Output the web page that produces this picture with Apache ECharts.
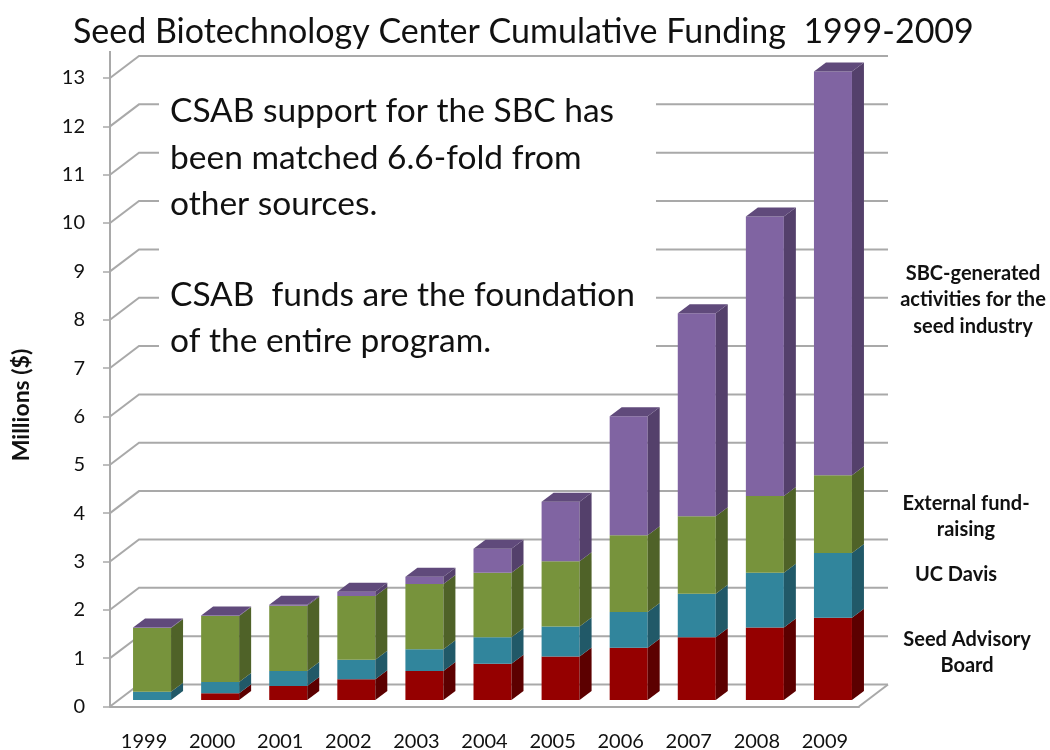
<!DOCTYPE html>
<html>
<head>
<meta charset="utf-8">
<title>Seed Biotechnology Center Cumulative Funding</title>
<script src="https://cdn.jsdelivr.net/npm/echarts@6/dist/echarts.min.js"></script>
<style>
html, body { margin: 0; padding: 0; background: #fff; }
#chart { width: 1050px; height: 750px; }
</style>
</head>
<body>
<div id="chart"></div>
<script>
const years = ['1999', '2000', '2001', '2002', '2003', '2004', '2005', '2006', '2007', '2008', '2009']
const yTicks = [0, 1, 2, 3, 4, 5, 6, 7, 8, 9, 10, 11, 12, 13]

// millions of dollars per source
const advisoryBoard = [0, 0.14, 0.29, 0.43, 0.6, 0.75, 0.9, 1.08, 1.3, 1.5, 1.7]
const ucDavis = [0.17, 0.23, 0.31, 0.4, 0.45, 0.55, 0.62, 0.74, 0.9, 1.13, 1.34]
const externalFunds = [1.32, 1.37, 1.35, 1.32, 1.35, 1.33, 1.35, 1.59, 1.6, 1.59, 1.61]
const sbcActivities = [0.01, 0.01, 0.02, 0.09, 0.15, 0.5, 1.23, 2.46, 4.2, 5.78, 8.35]

const FONT = 'Lato, "Open Sans", sans-serif'
const GRID_COLOR = '#a9a9a9'

// 3D look: wall offset and bar offsets in pixels
const WALL_DX = 29
const WALL_DY = 22
const BAR_WIDTH = 38
const BAR_DX = 12
const BAR_DY = 9
const BAR_SHIFT_X = 8
const BAR_LIFT = 6.5

function gridItem(params, api) {
  const v = api.value(0)
  const y = api.coord([0, v])[1]
  const sys = params.coordSys
  const lineStyle = { stroke: GRID_COLOR, lineWidth: 2, fill: null }
  const x0 = sys.x
  const x1 = sys.x + sys.width
  const children = [{
    type: 'polyline',
    shape: { points: [[x0, y], [x0 + WALL_DX, y - WALL_DY], [x1 + WALL_DX, y - WALL_DY]] },
    style: lineStyle
  }]
  if (v === 0) {
    children.push({
      type: 'line',
      shape: { x1: x1, y1: y, x2: x1 + WALL_DX, y2: y - WALL_DY },
      style: lineStyle
    })
  }
  if (v === 13) {
    children.push({
      type: 'line',
      shape: { x1: x0, y1: y, x2: x0, y2: y - 27 },
      style: lineStyle
    })
  }
  return { type: 'group', children }
}

function barSeries(name, values, bases, colors, capped) {
  return {
    name,
    type: 'custom',
    z: 5,
    clip: false,
    silent: true,
    data: values.map((v, i) => [i, bases[i], bases[i] + v]),
    renderItem(params, api) {
      const i = api.value(0)
      const x = api.coord([i, 0])[0] + BAR_SHIFT_X - BAR_WIDTH / 2
      const yb = api.coord([i, api.value(1)])[1] - BAR_LIFT
      const yt = api.coord([i, api.value(2)])[1] - BAR_LIFT
      const xr = x + BAR_WIDTH
      const children = [
        { type: 'rect', shape: { x, y: yt, width: BAR_WIDTH, height: yb - yt }, style: { fill: colors[0] } },
        {
          type: 'polygon',
          shape: { points: [[xr, yb], [xr, yt], [xr + BAR_DX, yt - BAR_DY], [xr + BAR_DX, yb - BAR_DY]] },
          style: { fill: colors[1] }
        }
      ]
      if (capped) {
        children.push({
          type: 'polygon',
          shape: { points: [[x, yt], [xr, yt], [xr + BAR_DX, yt - BAR_DY], [x + BAR_DX, yt - BAR_DY]] },
          style: { fill: colors[2] }
        })
      }
      return { type: 'group', children }
    }
  }
}

function cumulative(...lists) {
  return years.map((_, i) => lists.reduce((sum, l) => sum + l[i], 0))
}

function sideLabel(lines, cx, top) {
  return {
    type: 'text',
    z: 6,
    style: {
      text: lines.join('\n'),
      x: cx,
      y: top,
      align: 'center',
      font: 'bold 20px ' + FONT,
      lineHeight: 26.5,
      fill: '#111'
    }
  }
}

function noteLine(text, top) {
  return {
    type: 'text',
    z: 4,
    style: { text, x: 170, y: top, font: '33.5px ' + FONT, fill: '#111' }
  }
}

const chart = echarts.init(document.getElementById('chart'), null, { renderer: 'canvas' })

chart.setOption({
  animation: false,
  backgroundColor: '#fff',
  title: {
    text: 'Seed Biotechnology Center Cumulative Funding  1999-2009',
    left: 68,
    top: 10,
    textStyle: { fontFamily: FONT, fontSize: 34, fontWeight: 'normal', color: '#111' }
  },
  grid: { left: 110, right: 191, top: 78, bottom: 43.5, outerBoundsMode: 'none' },
  xAxis: {
    type: 'category',
    data: years,
    axisLine: { lineStyle: { color: GRID_COLOR, width: 2 } },
    axisTick: { length: 8, lineStyle: { color: GRID_COLOR, width: 1.5 } },
    axisLabel: { fontFamily: FONT, fontSize: 20, color: '#111', margin: 25 }
  },
  yAxis: {
    type: 'value',
    min: 0,
    max: 13,
    interval: 1,
    axisLine: { show: true, lineStyle: { color: GRID_COLOR, width: 2 } },
    axisTick: { show: true, length: 7, lineStyle: { color: GRID_COLOR, width: 1.5 } },
    axisLabel: { fontFamily: FONT, fontSize: 20, color: '#111', margin: 25 },
    splitLine: { show: false }
  },
  graphic: {
    elements: [
      { type: 'rect', z: 3, shape: { x: 159, y: 90, width: 497, height: 278 }, style: { fill: '#fff' } },
      noteLine('CSAB support for the SBC has', 94),
      noteLine('been matched 6.6-fold from', 141),
      noteLine('other sources.', 187),
      noteLine('CSAB  funds are the foundation', 278),
      noteLine('of the entire program.', 324),
      sideLabel(['SBC-generated', 'activities for the', 'seed industry'], 973, 260),
      sideLabel(['External fund-', 'raising'], 966, 490),
      sideLabel(['UC Davis'], 956, 561),
      sideLabel(['Seed Advisory', 'Board'], 967, 626),
      {
        type: 'text',
        z: 6,
        x: 22,
        y: 405,
        rotation: Math.PI / 2,
        style: {
          text: 'Millions ($)',
          align: 'center',
          verticalAlign: 'middle',
          font: 'bold 23px ' + FONT,
          fill: '#111'
        }
      }
    ]
  },
  series: [
    {
      name: 'grid',
      type: 'custom',
      z: 1,
      clip: false,
      silent: true,
      data: yTicks.map(v => [v]),
      renderItem: gridItem
    },
    barSeries('Seed Advisory Board', advisoryBoard, years.map(() => 0), ['#950000', '#5c0000', '#5c0000'], false),
    barSeries('UC Davis', ucDavis, cumulative(advisoryBoard), ['#31859c', '#215968', '#215968'], false),
    barSeries('External fund-raising', externalFunds, cumulative(advisoryBoard, ucDavis), ['#77933c', '#4f6228', '#4f6228'], false),
    barSeries('SBC-generated activities', sbcActivities, cumulative(advisoryBoard, ucDavis, externalFunds), ['#8064a2', '#54406b', '#604a7b'], true)
  ]
})

window.addEventListener('resize', () => chart.resize())
</script>
</body>
</html>
